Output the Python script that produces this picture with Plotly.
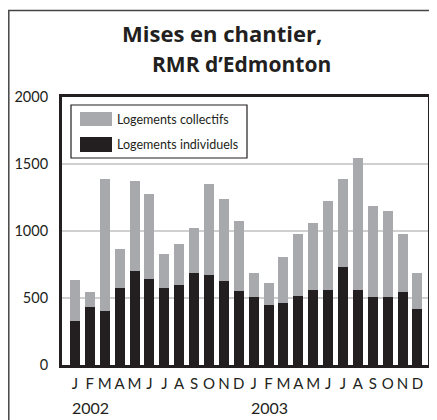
import plotly.graph_objects as go

months = ["J", "F", "M", "A", "M", "J", "J", "A", "S", "O", "N", "D",
          "J", "F", "M", "A", "M", "J", "J", "A", "S", "O", "N", "D"]
years = ["2002", "2003"]
individuels = [332, 436, 402, 571, 705, 645, 578, 600, 683, 675, 630, 556,
               504, 451, 459, 518, 563, 563, 735, 563, 511, 511, 548, 421]
totals = [638, 548, 1391, 869, 1371, 1279, 832, 906, 1026, 1354, 1242, 1078,
          690, 615, 809, 981, 1063, 1227, 1391, 1548, 1190, 1153, 974, 690]
collectifs = [t - i for t, i in zip(totals, individuels)]
y_ticks = [0, 500, 1000, 1500, 2000]

DARK = "#231f20"
GREY = "#a7a9ac"
FONT = "Lato"
TFONT = "Open Sans"

x = list(range(len(months)))

fig = go.Figure()
fig.add_trace(go.Bar(x=x, y=individuels, name="Logements individuels",
                     marker=dict(color=DARK, line=dict(width=0)), showlegend=False))
fig.add_trace(go.Bar(x=x, y=collectifs, name="Logements collectifs",
                     marker=dict(color=GREY, line=dict(width=0)), showlegend=False))

OFF = 8  # page body margin
W, H = 437 - OFF, 420 - OFF
# page-pixel geometry of the reference
L, R, T, B = 62, 428, 97, 365
ml, mt = L - OFF, T - OFF
mr, mb = W - (R - OFF), H - (B - OFF)
pw, ph = W - ml - mr, H - mt - mb

def px(xp):
    return (xp - OFF - ml) / pw

def py(yp):
    return (H - mb - (yp - OFF)) / ph

shapes = [
    # outer frame
    dict(type="rect", xref="paper", yref="paper", x0=px(8.8), x1=px(460), y0=py(460), y1=py(10.5),
         line=dict(color="#444444", width=1.5), fillcolor="rgba(0,0,0,0)", layer="below"),
    # legend box
    dict(type="rect", xref="paper", yref="paper", x0=px(71), x1=px(247), y0=py(158), y1=py(105),
         line=dict(color=DARK, width=1.2), fillcolor="white"),
    dict(type="rect", xref="paper", yref="paper", x0=px(80), x1=px(112), y0=py(126), y1=py(112),
         line=dict(width=0), fillcolor=GREY),
    dict(type="rect", xref="paper", yref="paper", x0=px(80), x1=px(112), y0=py(152), y1=py(137),
         line=dict(width=0), fillcolor=DARK),
]

annotations = [
    dict(text="<b>Mises en chantier,</b>", xref="paper", yref="paper", x=px(222), y=py(33),
         xanchor="center", yanchor="middle", showarrow=False,
         font=dict(family=TFONT, size=22, color=DARK)),
    dict(text="<b>RMR d’Edmonton</b>", xref="paper", yref="paper", x=px(241), y=py(64),
         xanchor="center", yanchor="middle", showarrow=False,
         font=dict(family=TFONT, size=21, color=DARK)),
    dict(text="Logements collectifs", xref="paper", yref="paper", x=px(115), y=py(119),
         xanchor="left", yanchor="middle", showarrow=False,
         font=dict(family=FONT, size=12.5, color=DARK)),
    dict(text="Logements individuels", xref="paper", yref="paper", x=px(115), y=py(144.5),
         xanchor="left", yanchor="middle", showarrow=False,
         font=dict(family=FONT, size=12.5, color=DARK)),
]
for k, yr in enumerate(years):
    annotations.append(dict(text=yr, xref="x", yref="paper", x=12 * k - 0.3, y=py(407),
                            xanchor="left", yanchor="middle", showarrow=False,
                            font=dict(family=FONT, size=16, color=DARK)))

fig.update_layout(
    width=W, height=H,
    margin=dict(l=ml, r=mr, t=mt, b=mb, pad=0, autoexpand=False),
    barmode="stack", bargap=0.33,
    paper_bgcolor="white", plot_bgcolor="white",
    font=dict(family=FONT, color=DARK),
    shapes=shapes, annotations=annotations,
    xaxis=dict(range=[-0.87, len(months) - 1 + 0.71], tickvals=x, ticktext=months,
               tickfont=dict(size=15, color=DARK), ticks="", showgrid=False,
               showline=True, linecolor=DARK, linewidth=3, mirror=True,
               ticklabelstandoff=3, zeroline=False, automargin=False),
    yaxis=dict(range=[0, 2000], tickvals=y_ticks, ticktext=[str(v) for v in y_ticks],
               tickfont=dict(size=14.5, color=DARK), ticks="", showgrid=True,
               gridcolor="#d0d0d0", gridwidth=1.5,
               showline=True, linecolor=DARK, linewidth=3, mirror=True,
               ticklabelstandoff=8, zeroline=False, automargin=False),
)

fig.write_html("out.html")
